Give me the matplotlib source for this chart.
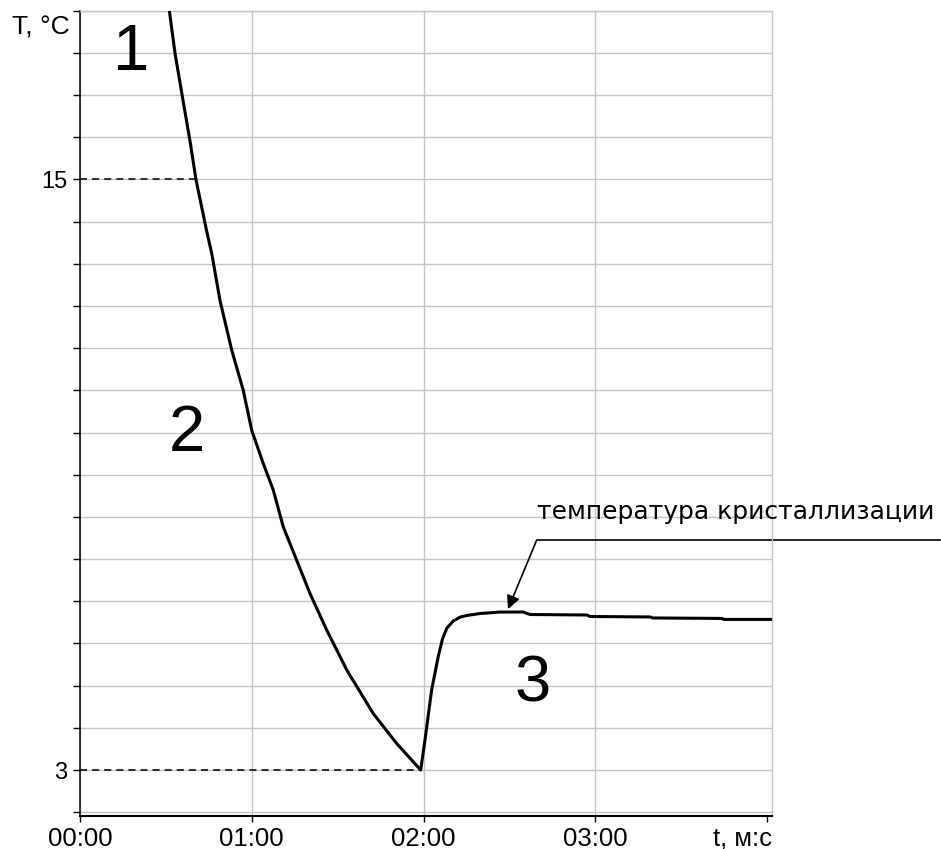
import numpy as np
import matplotlib
matplotlib.use("Agg")
import matplotlib.pyplot as plt

# ---------------------------------------------------------------- data
# cooling curve: time in seconds, temperature in deg C
time_s = [31.2, 33.2, 36.0, 38.4, 40.5, 44.2, 46.0, 48.9, 53.0, 57.0,
          60.0, 64.0, 67.5, 71.0, 75.7, 80.3, 86.2, 93.2, 102.4, 110.6,
          119.0, 120.5, 122.8, 125.1, 126.6, 128.1, 130.4, 132.9, 135.1, 139.7,
          146.7, 154.8, 157.2, 177.1, 178.1, 199.1, 200.1, 224.2, 225.0, 241.6]
temp_c = [18.43, 17.56, 16.60, 15.79, 15.00, 13.96, 13.50, 12.54, 11.53, 10.72,
          9.90, 9.23, 8.69, 7.94, 7.26, 6.59, 5.84, 5.03, 4.15, 3.54,
          3.00, 3.61, 4.62, 5.30, 5.66, 5.88, 6.03, 6.11, 6.14, 6.18,
          6.21, 6.21, 6.16, 6.15, 6.12, 6.11, 6.09, 6.08, 6.06, 6.06]

x_ticks = [0, 60, 120, 180, 240]
x_labels = ["00:00", "01:00", "02:00", "03:00", ""]
guide_levels = [15, 3]            # dashed helper lines
grid_step = 12 / 14               # 14 grid cells between 3 and 15
region_labels = ["1", "2", "3"]
region_pos = [(17.8, 17.56), (37.5, 9.83), (158.2, 4.73)]
cryst_text = "температура кристаллизации"
cryst_tip = (149.5, 6.27)
cryst_anchor = (159.5, 7.67)

GRID = "#c4c4c4"

fig = plt.figure(figsize=(9.41, 8.49), dpi=100)
ax = fig.add_axes([80 / 941, 1 - 816 / 849, (771.7 - 80) / 941, (816 - 10.7) / 849])

ax.set_xlim(0, 241.6)
ax.set_ylim(2.066, 3 + 18 * grid_step)

yt = [3 + k * grid_step for k in range(-1, 19)]
ax.set_yticks(yt)
ax.set_yticklabels(["15" if abs(v - 15) < 1e-6 else "3" if abs(v - 3) < 1e-6 else "" for v in yt],
                   fontsize=17, family="Liberation Sans")
ax.set_xticks(x_ticks)
ax.set_xticklabels(x_labels, fontsize=18.5, family="Liberation Sans")
ax.tick_params(axis="y", direction="out", length=5, width=1, pad=4)
ax.tick_params(axis="x", direction="out", length=4.3, width=1, pad=3.5)

ax.grid(True, color=GRID, lw=1.0)
ax.set_axisbelow(True)
# no grid line at the last time tick (right border does that job)
ax.xaxis.get_gridlines()[-1].set_visible(False)
for side in ("top", "right"):
    ax.spines[side].set_color(GRID)
    ax.spines[side].set_linewidth(1.0)
ax.spines["left"].set_linewidth(1.1)
ax.spines["bottom"].set_linewidth(1.5)

# helper dashed lines from the axis to the cooling branch
t_arr = np.array(time_s)
T_arr = np.array(temp_c)
cool = t_arr <= 119.0
for lvl in guide_levels:
    t_end = np.interp(lvl, T_arr[cool][::-1], t_arr[cool][::-1])
    ax.plot([0, t_end], [lvl, lvl], color="#222222", lw=1.3, ls=(0, (3.9, 2.8)), zorder=2)

ax.plot(time_s, temp_c, color="black", lw=2.2, zorder=3, solid_joinstyle="round")

for lab, (tx, ty) in zip(region_labels, region_pos):
    ax.text(tx, ty, lab, fontsize=47, family="Liberation Sans", ha="center", va="center")

# crystallisation annotation
ax.annotate("", xy=cryst_tip, xytext=cryst_anchor,
            arrowprops=dict(arrowstyle="-|>", color="black", lw=1.2,
                            mutation_scale=20, shrinkA=0, shrinkB=0))
ax.plot([cryst_anchor[0], 300.5], [cryst_anchor[1]] * 2, color="black", lw=1.2, clip_on=False)
ax.text(cryst_anchor[0], 8.24, cryst_text, fontsize=18, family="DejaVu Sans",
        ha="left", va="center")

fig.text(70 / 941, 1 - 28 / 849, "T, °C", fontsize=19, family="Liberation Sans",
         ha="right", va="center")
ax.annotate("t, м:с", xy=(1, 0), xycoords="axes fraction", xytext=(0, -7.8),
            textcoords="offset points", ha="right", va="top",
            fontsize=18.5, family="Liberation Sans")

fig.savefig("out.png", dpi=100)
